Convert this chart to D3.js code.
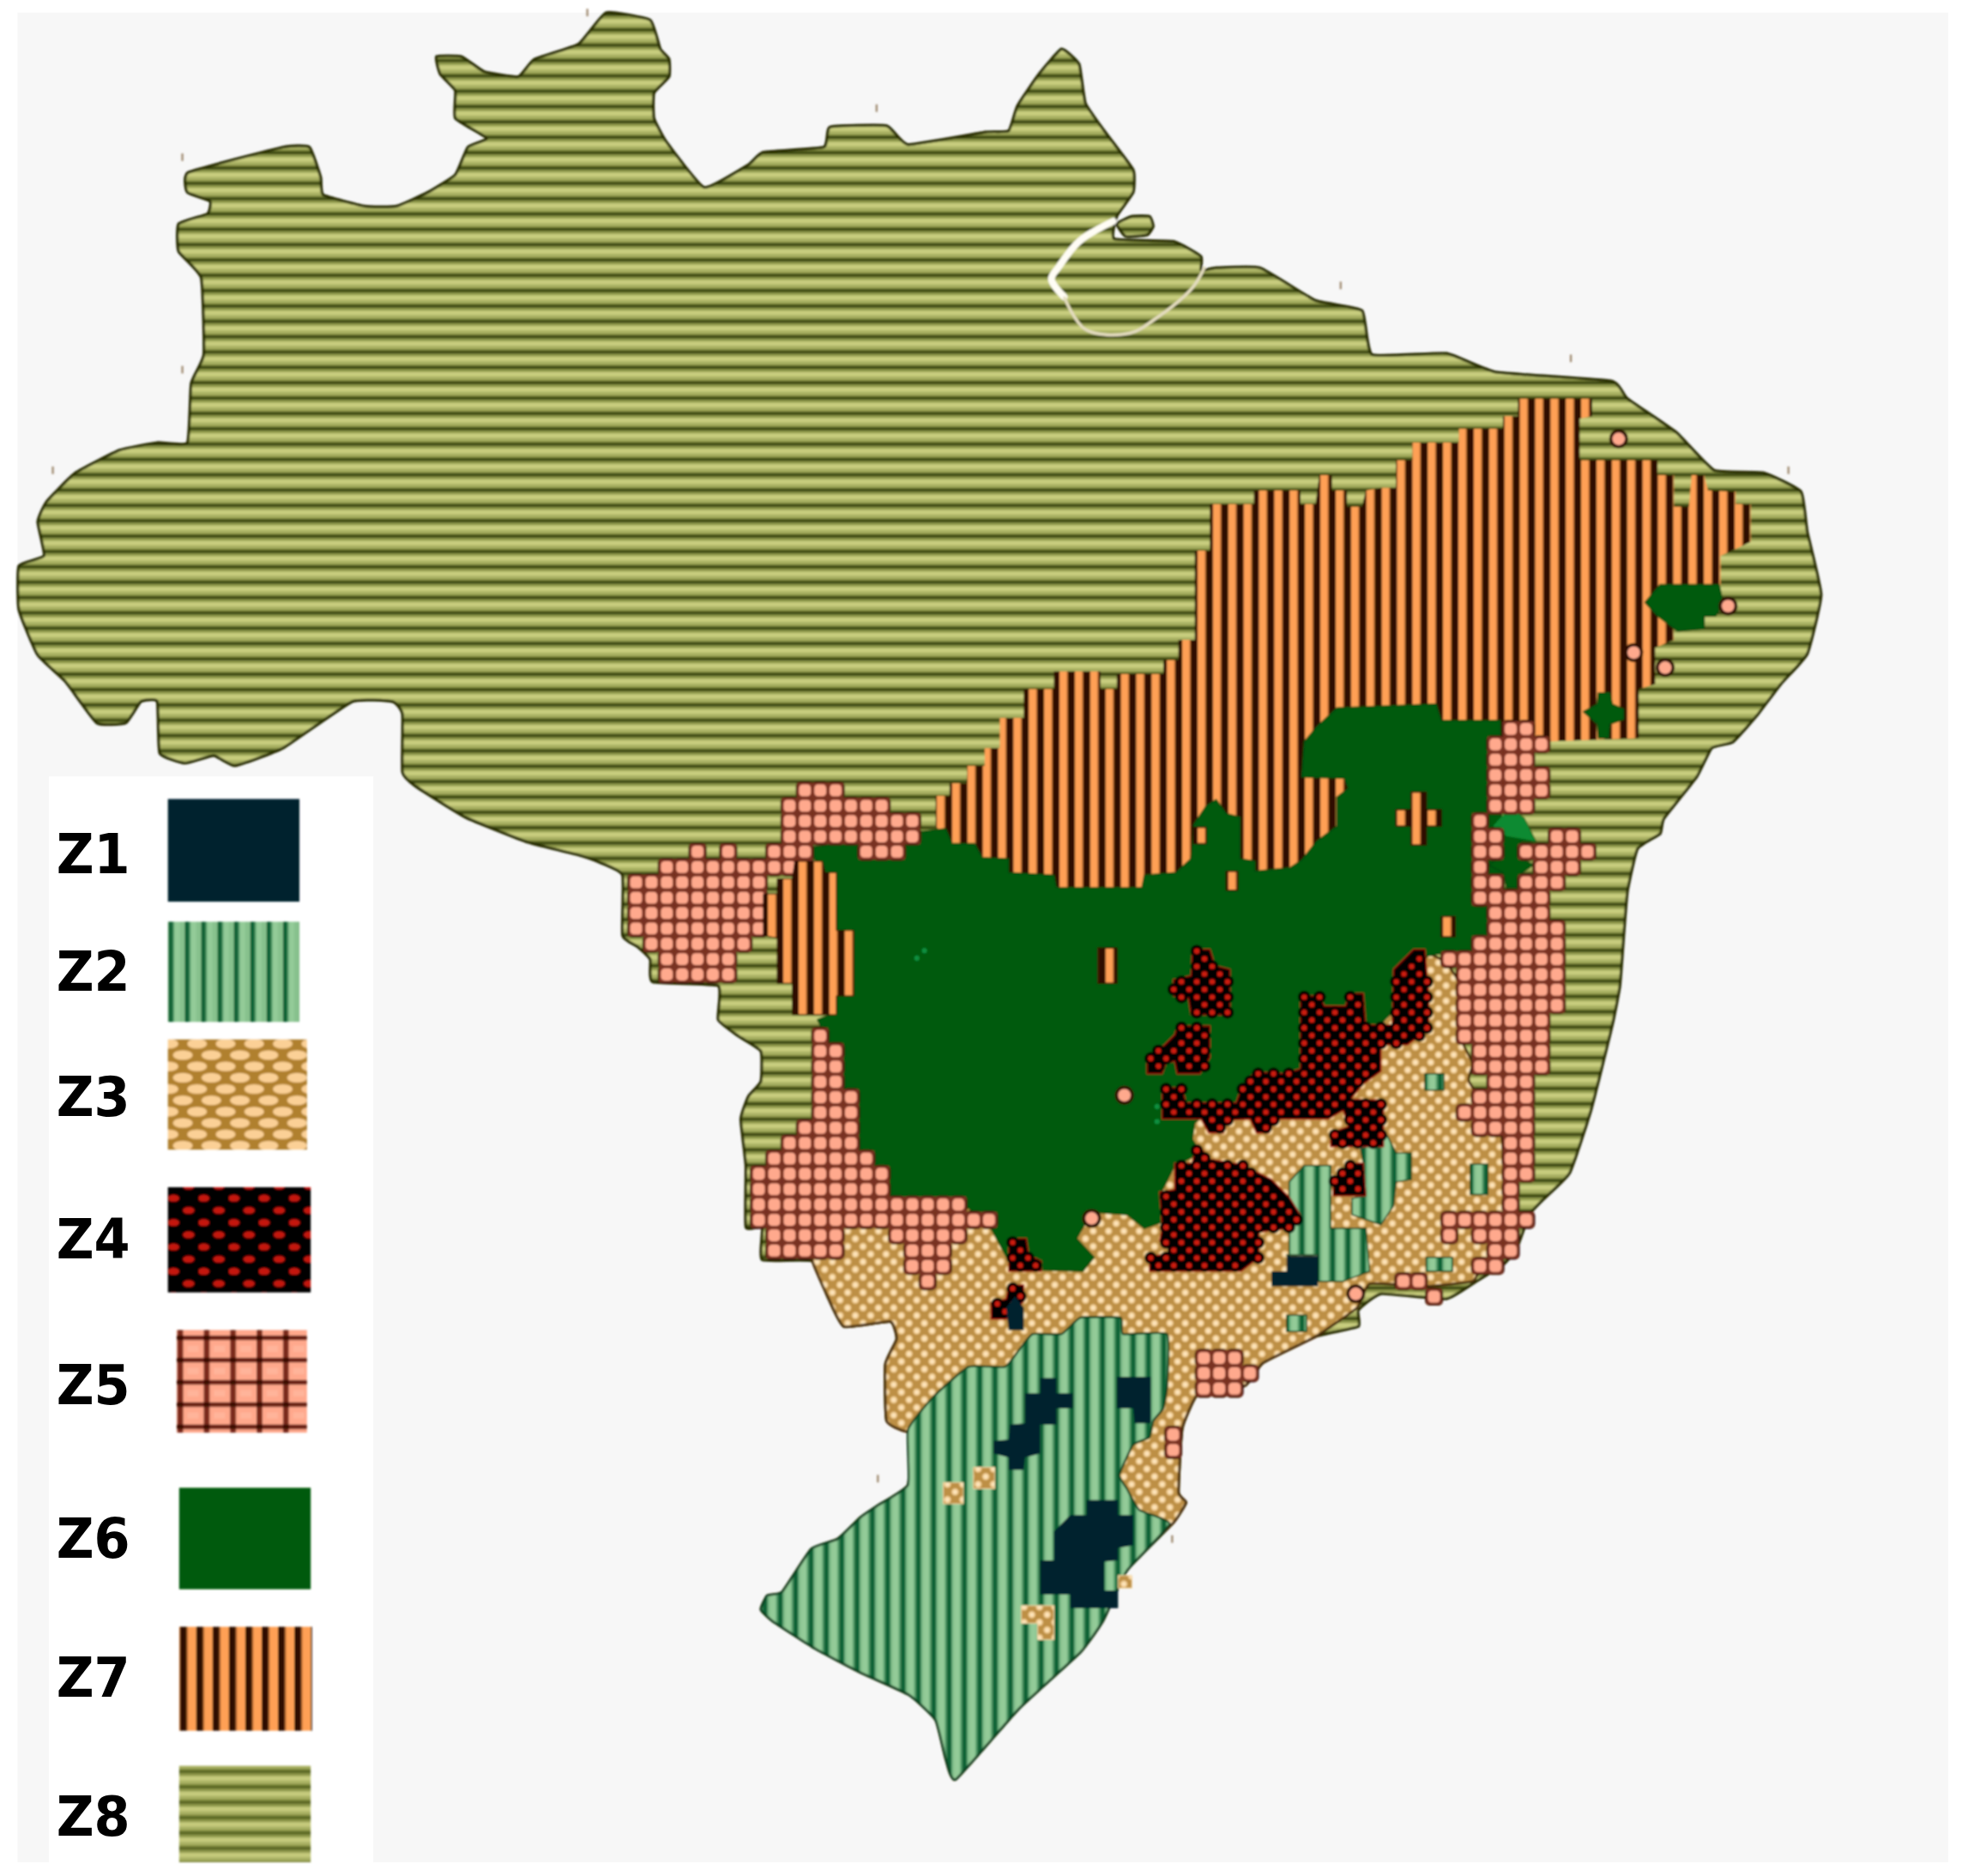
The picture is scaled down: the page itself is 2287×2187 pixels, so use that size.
<!DOCTYPE html>
<html><head><meta charset="utf-8">
<script src="https://cdn.jsdelivr.net/npm/d3@7"></script>
<style>html,body{margin:0;padding:0;background:#fff}svg{display:block}</style>
</head><body><div id="chart"></div>
<script>
// ---------- DATA (map units) ----------
const zoneLabels = ["Z1","Z2","Z3","Z4","Z5","Z6","Z7","Z8"];
const legendBoxes = [[134,638,239,720],[134,736,239,816],[134,830,245,918],[134,948,248,1032],[141,1062,245,1144],[143,1188,248,1269],[143,1299,249,1382],[143,1410,248,1487]];
const labelBaselines = [697,791,891,1005,1121,1244,1355,1466];

const z8Outline = [[482,10],[517,16],[525,39],[532,47],[532,61],[520,74],[520,94],[530,113],[560,149],[595,131],[607,121],[655,117],[660,101],[705,100],[722,115],[784,105],[802,104],[809,84],[826,59],[844,39],[858,51],[863,82],[878,104],[901,135],[901,153],[888,172],[886,190],[933,192],[955,204],[955,215],[967,213],[1002,213],[1046,239],[1083,247],[1091,282],[1150,281],[1190,296],[1281,303],[1294,317],[1333,344],[1363,374],[1402,376],[1432,391],[1437,423],[1448,473],[1437,520],[1416,544],[1397,569],[1378,590],[1361,595],[1349,618],[1323,651],[1320,663],[1302,675],[1294,709],[1291,745],[1288,784],[1282,815],[1265,883],[1248,933],[1227,954],[1216,966],[1206,993],[1195,1006],[1174,1019],[1150,1033],[1098,1029],[1080,1042],[1080,1055],[1046,1063],[1004,1084],[990,1102],[953,1108],[940,1136],[937,1187],[943,1195],[932,1212],[896,1249],[877,1289],[859,1314],[810,1359],[760,1415],[752,1399],[744,1368],[723,1348],[684,1330],[648,1311],[614,1289],[605,1280],[610,1269],[622,1266],[645,1232],[666,1224],[684,1207],[697,1198],[722,1181],[722,1139],[705,1130],[704,1085],[713,1065],[708,1051],[671,1055],[658,1031],[646,1003],[606,1002],[606,976],[593,976],[593,927],[589,890],[595,872],[605,860],[605,836],[587,824],[571,811],[571,784],[519,781],[517,763],[507,753],[495,744],[495,696],[477,686],[460,680],[420,670],[370,650],[330,625],[320,614],[320,568],[312,558],[280,558],[225,595],[187,609],[170,601],[147,607],[127,599],[125,558],[112,558],[100,575],[77,575],[52,542],[30,521],[15,485],[15,450],[35,442],[30,415],[37,399],[60,376],[95,358],[125,352],[149,352],[152,305],[162,282],[160,221],[142,200],[142,178],[165,170],[167,160],[149,153],[150,137],[225,117],[246,117],[255,141],[257,155],[290,164],[315,164],[340,153],[362,139],[372,117],[387,110],[362,94],[362,72],[350,59],[347,45],[367,45],[385,57],[412,61],[425,47],[460,35]];
const z8Islet = [[888,178],[900,172],[914,172],[917,180],[912,187],[895,188]];
const channelWide = [[885,176],[858,192],[842,212],[836,222],[846,236]];
const channelThin = [[846,236],[863,262],[898,265],[918,254],[948,229],[958,212]];

const z7Main = [[744,657],[744,633],[755,633],[755,623],[769,623],[769,609],[783,609],[783,595],[795,595],[795,571],[814,571],[814,548],[838,548],[838,534],[875,534],[875,548],[888,548],[888,536],[925,536],[925,525],[937,525],[937,509],[950,509],[950,438],[962,438],[962,401],[997,401],[997,390],[1034,390],[1034,401],[1046,401],[1049,378],[1059,378],[1059,390],[1071,390],[1071,403],[1083,403],[1086,390],[1098,388],[1110,388],[1110,366],[1123,366],[1123,352],[1160,352],[1160,341],[1195,341],[1195,331],[1207,331],[1207,317],[1266,317],[1266,331],[1256,333],[1256,366],[1318,366],[1318,378],[1331,378],[1331,403],[1343,403],[1345,378],[1355,378],[1358,390],[1380,391],[1380,401],[1392,401],[1392,431],[1368,442],[1368,466],[1330,490],[1331,509],[1316,515],[1316,544],[1303,548],[1303,587],[1225,590],[1200,640],[1000,720],[800,720]];
const z7West = [[607,744],[607,711],[618,711],[618,699],[630,699],[632,685],[654,685],[656,694],[665,694],[665,740],[679,740],[679,792],[665,792],[665,807],[630,807],[630,782],[618,782],[618,746]];
const z7Parts = [
 [[873,754],[888,754],[888,782],[873,782]],
 [[1122,630],[1134,630],[1134,644],[1146,644],[1146,657],[1134,657],[1134,672],[1122,672],[1122,657],[1110,657],[1110,644],[1122,644]],
 [[1146,729],[1157,729],[1157,745],[1146,745]],
 [[975,693],[984,693],[984,708],[975,708]],
 [[949,658],[959,658],[959,671],[949,671]]];

const z3Main = [[646,979],[646,1003],[658,1031],[671,1055],[708,1051],[713,1065],[704,1085],[705,1130],[722,1139],[800,1150],[900,1230],[932,1212],[943,1195],[937,1187],[940,1136],[953,1108],[990,1102],[1004,1084],[1046,1063],[1079,1040],[1089,1021],[1133,1023],[1171,1019],[1178,1006],[1195,982],[1194,904],[1168,860],[1171,846],[1159,820],[1168,794],[1150,766],[1136,759],[1122,776],[1040,860],[950,880],[860,950],[780,960],[700,960]];
const z3Parts = [
 [[750,1179],[766,1179],[766,1196],[750,1196]],
 [[774,1167],[791,1167],[791,1184],[774,1184]],
 [[812,1277],[838,1277],[838,1304],[825,1304],[825,1291],[812,1291]],
 [[889,1253],[900,1253],[900,1263],[889,1263]]];

const z6Main = [[644,674],[728,662],[752,659],[757,671],[775,671],[781,682],[802,683],[802,694],[838,696],[840,706],[908,706],[910,696],[935,694],[947,683],[949,656],[959,641],[967,636],[975,647],[986,650],[986,683],[998,685],[998,693],[1026,690],[1035,684],[1047,669],[1063,657],[1063,634],[1072,627],[1069,619],[1035,618],[1037,590],[1047,578],[1063,563],[1142,560],[1146,573],[1193,573],[1195,780],[1147,758],[1126,762],[1122,790],[1090,822],[1060,846],[1028,880],[960,885],[950,893],[948,906],[955,917],[934,927],[922,951],[924,972],[910,977],[896,966],[868,964],[856,985],[870,1000],[861,1011],[826,1010],[802,1003],[788,977],[767,958],[704,950],[693,925],[672,915],[672,866],[660,830],[650,811],[665,805],[665,720]];
const z6Parts = [
 [[1308,479],[1320,465],[1367,465],[1370,480],[1364,490],[1355,490],[1355,500],[1334,502],[1318,490]],
 [[1259,566],[1270,560],[1271,551],[1280,551],[1282,560],[1291,564],[1291,572],[1280,576],[1279,587],[1271,587],[1270,576]],
 [[1194,651],[1201,642],[1212,651],[1221,669],[1209,669],[1209,682],[1219,688],[1209,695],[1206,706],[1198,706],[1195,694],[1184,688],[1195,679],[1195,666],[1187,657]]];
const z6Light = [[1187,657],[1201,642],[1212,651],[1221,669],[1198,665]];
const z6Specks = [[729,762],[735,756],[920,880],[920,892]];

const z5Blocks = [[630,622,667,635],[618,635,705,647],[618,647,728,670],[681,670,716,682],[607,670,642,685],[521,683,642,696],[544,670,556,683],[569,670,581,683],[495,696,607,744],[509,744,595,757],[519,757,581,781],
 [642,817,654,830],[642,830,668,866],[642,866,679,894],[630,894,679,903],[618,903,679,915],[607,915,691,939],[593,927,703,951],[593,951,765,964],[593,964,790,976],[605,976,669,1000],[704,976,765,988],[716,988,753,1012],[728,1012,742,1025],
 [1195,575,1219,587],[1183,587,1232,599],[1183,599,1219,611],[1183,611,1232,634],[1183,634,1219,646],[1171,646,1183,657],[1171,659,1194,682],[1171,683,1183,694],[1171,695,1194,707],[1209,695,1244,707],[1209,671,1268,683],[1221,683,1256,695],[1233,659,1256,671],[1171,707,1233,719],[1183,719,1233,732],[1183,732,1244,745],[1171,745,1244,758],[1147,756,1244,770],[1158,770,1244,805],[1159,805,1232,831],[1171,831,1232,854],[1183,854,1218,865],[1171,865,1218,878],[1159,878,1218,891],[1171,891,1218,903],[1195,903,1218,938],[1195,938,1208,961],[1147,961,1220,974],[1147,974,1159,986],[1171,974,1208,986],[1183,986,1208,999],[1171,999,1195,1011],[1108,1011,1135,1023],[1133,1023,1147,1036],
 [950,1071,987,1107],[987,1084,999,1094],[925,1133,940,1156]];
const z5Dots = [[868,969],[894,871],[1287,349],[1374,482],[1299,519],[1324,531],[1078,1029]];

const z2Main = [[722,1137],[742,1111],[770,1087],[799,1087],[810,1074],[821,1061],[844,1061],[859,1048],[891,1048],[893,1061],[928,1061],[928,1102],[925,1120],[917,1130],[914,1143],[901,1149],[890,1173],[896,1184],[906,1201],[930,1212],[896,1249],[877,1289],[859,1314],[810,1359],[760,1415],[752,1399],[744,1368],[723,1348],[684,1330],[648,1311],[614,1289],[605,1280],[610,1269],[622,1266],[645,1232],[666,1224],[684,1207],[697,1198],[722,1181]];
const z2Parts = [
 [[1025,1000],[1025,940],[1037,927],[1058,927],[1058,977],[1086,977],[1089,1011],[1068,1019],[1048,1019],[1048,998],[1023,998]],
 [[1082,914],[1103,903],[1110,917],[1122,917],[1122,938],[1110,940],[1108,959],[1098,974],[1075,966],[1075,953],[1086,951],[1084,925]],
 [[1133,854],[1148,854],[1148,867],[1133,867]],
 [[1169,926],[1183,926],[1183,950],[1169,950]],
 [[1023,1046],[1039,1046],[1039,1059],[1023,1059]],
 [[1134,1000],[1155,1000],[1155,1011],[1134,1011]]];

const z4Parts = [
 [[948,755],[962,755],[966,768],[978,771],[978,807],[947,807],[945,794],[933,792],[933,779],[947,776]],
 [[936,816],[962,816],[962,841],[954,854],[936,854],[934,844],[927,846],[924,854],[912,854],[912,841],[926,831],[934,823]],
 [[924,865],[940,865],[943,877],[983,877],[987,865],[997,853],[1011,853],[1021,854],[1034,850],[1034,792],[1049,792],[1053,800],[1070,800],[1072,790],[1084,790],[1086,815],[1107,815],[1108,771],[1124,755],[1133,755],[1136,792],[1136,818],[1119,831],[1098,831],[1098,852],[1084,862],[1074,874],[1100,875],[1100,912],[1058,912],[1058,901],[1072,896],[1068,883],[1056,890],[1014,890],[1009,901],[999,901],[994,890],[973,891],[973,901],[961,901],[955,890],[924,890]],
 [[955,913],[962,922],[987,926],[1011,938],[1025,952],[1035,968],[1025,977],[1001,980],[1001,1000],[987,1011],[914,1011],[914,999],[934,997],[922,987],[924,977],[922,948],[934,946],[934,925],[948,925],[950,914]],
 [[1060,938],[1074,925],[1084,925],[1086,951],[1060,951]],
 [[802,985],[816,985],[818,998],[828,1003],[828,1011],[802,1011]],
 [[802,1022],[814,1022],[814,1035],[800,1049],[788,1049],[788,1036],[800,1033]]];

const z1Parts = [
 [[1011,1023],[1011,1011],[1023,1011],[1023,999],[1048,999],[1048,1023]],
 [[800,1040],[807,1031],[814,1040],[814,1058],[802,1058]],
 [[827,1096],[840,1096],[840,1108],[853,1108],[853,1120],[840,1120],[840,1133],[827,1133],[827,1156],[815,1159],[814,1169],[802,1169],[802,1159],[790,1156],[790,1146],[802,1145],[803,1133],[815,1132],[815,1108],[827,1108]],
 [[888,1095],[915,1095],[915,1132],[902,1132],[901,1120],[888,1120]],
 [[864,1193],[889,1193],[889,1205],[901,1205],[901,1229],[889,1231],[889,1241],[878,1242],[878,1265],[889,1265],[889,1279],[851,1279],[851,1268],[827,1268],[827,1241],[838,1241],[838,1218],[851,1205],[864,1205]]];

const specks = [[145,125],[145,294],[42,374],[697,86],[467,10],[1066,227],[1249,285],[1422,374],[698,1176],[932,1224]];

// ---------- SCALES ----------
const W = 2287, H = 2187;
const x = d3.scaleLinear().domain([0,1560]).range([0,W]);
const y = d3.scaleLinear().domain([0,1492]).range([0,H]);
const xL = d3.scaleLinear().domain([0,1566]).range([0,W]);
const yL = d3.scaleLinear().domain([0,1498]).range([0,H]);
const u = x(1);
const P = 12.2;
const line = d3.line().x(d=>x(d[0])).y(d=>y(d[1])).curve(d3.curveLinear);
const smooth = d3.line().x(d=>x(d[0])).y(d=>y(d[1])).curve(d3.curveCardinalClosed.tension(0.6));
const ring = pts => line(pts)+"Z";

const svg = d3.select("#chart").append("svg").attr("width",W).attr("height",H).attr("viewBox",`0 0 ${W} ${H}`);
const defs = svg.append("defs");
defs.append("filter").attr("id","soft").attr("x","-2%").attr("y","-2%").attr("width","104%").attr("height","104%")
  .append("feGaussianBlur").attr("stdDeviation",1.3);
defs.append("filter").attr("id","softText").append("feGaussianBlur").attr("stdDeviation",0.7);

function pattern(id,w,h,phaseX,phaseY,bg){
  const p = defs.append("pattern").attr("id",id).attr("patternUnits","userSpaceOnUse")
    .attr("width",w*u).attr("height",h*u)
    .attr("patternTransform",`translate(${phaseX*u},${phaseY*u})`);
  p.append("rect").attr("width",w*u).attr("height",h*u).attr("fill",bg);
  return p;
}
const band = (p,x0,y0,w,h,c)=>p.append("rect").attr("x",x0*u).attr("y",y0*u).attr("width",w*u).attr("height",h*u).attr("fill",c);
const dot = (p,cx,cy,rx,ry,c)=>p.append("ellipse").attr("cx",cx*u).attr("cy",cy*u).attr("rx",rx*u).attr("ry",ry*u).attr("fill",c);

let p8 = pattern("pZ8",P,P,0,0.6,"#b3ba6c");
band(p8,0,0,P,2.4,"#8c9648"); band(p8,0,2.4,P,3.6,"#c8cd7e"); band(p8,0,6,P,2.6,"#a9b163"); band(p8,0,8.6,P,1.2,"#7b8638"); band(p8,0,9.8,P,2.4,"#3a4610");
let p7 = pattern("pZ7",P,P,1.2,0,"#ffa055");
band(p7,6.0,0,5.6,P,"#2e0e00"); band(p7,5.2,0,0.8,P,"#b0632a");
let p2 = pattern("pZ2",P,P,0,0,"#87c18d");
band(p2,2.4,0,4.2,P,"#93cb98"); band(p2,8.4,0,3.8,P,"#0f6234"); band(p2,7.2,0,1.2,P,"#4f9a68"); band(p2,0,0,1,P,"#5aa574");
let p3 = pattern("pZ3",P,P,0,0,"#bd8f44");
[[3,3],[9.1,9.1]].forEach(c=>dot(p3,c[0],c[1],2.8,2.8,"#f6d39b"));
[[3,3],[9.1,9.1]].forEach(c=>dot(p3,c[0],c[1],1.3,1.3,"#ffe9c4"));
let l3 = pattern("lZ3",22.7,18,134,830,"#b0802e");
[[0,0],[22.7,0],[0,18],[22.7,18],[11.35,9]].forEach(c=>dot(l3,c[0],c[1],7.8,3.9,"#fbd096"));
let l4 = pattern("lZ4",24,19.4,134,948,"#000");
[[4,4.8],[16,14.5]].forEach(c=>dot(l4,c[0],c[1],4.6,2.8,"#c4140a"));
let l5 = pattern("lZ5",21,17.7,141,1062,"#ffa88c");
band(l5,0,0,21,3.6,"#6a2414"); band(l5,0,0,4.6,17.7,"#7a2c1a"); band(l5,0,0,4.6,3.6,"#3a0e04"); band(l5,8,8,9,5,"#ffb49a");
let l2 = pattern("lZ2",13,13,134,736,"#87c18d");
band(l2,4,0,5,13,"#93cb98"); band(l2,0,0,3.6,13,"#0f6234"); band(l2,3.6,0,1,13,"#4f9a68");
let l7 = pattern("lZ7",13,13,143,1299,"#ffa055");
band(l7,0,0,5.6,13,"#2e0e00"); band(l7,5.6,0,0.8,13,"#b0632a");
let l8 = pattern("lZ8",P,P,143,1410,"#b3ba6c");
band(l8,0,0,P,2.4,"#8c9648"); band(l8,0,2.4,P,3.6,"#c5ca7c"); band(l8,0,6,P,2.6,"#a9b163"); band(l8,0,8.6,P,1.2,"#7b8638"); band(l8,0,9.8,P,2.4,"#5a6622");

// ---------- BACKGROUND ----------
svg.append("rect").attr("width",W).attr("height",H).attr("fill","#fff");
svg.append("rect").attr("x",xL(14)).attr("y",yL(10)).attr("width",xL(1541)).attr("height",yL(1477)).attr("fill","#f7f7f7");

// ---------- MAP ----------
const map = svg.append("g").attr("filter","url(#soft)");
const poly = (list,fill,stroke,sw)=>map.append("g").selectAll("path").data(list).join("path")
  .attr("d",ring).attr("fill",fill).attr("stroke",stroke||"none").attr("stroke-width",sw||0).attr("stroke-linejoin","round");
const curvy = (list,fill,stroke,sw)=>map.append("g").selectAll("path").data(list).join("path")
  .attr("d",smooth).attr("fill",fill).attr("stroke",stroke||"none").attr("stroke-width",sw||0).attr("stroke-linejoin","round");

curvy([z8Outline,z8Islet],"url(#pZ8)","#262b04",3.2);
map.append("path").attr("d",line.curve(d3.curveCatmullRom)(channelWide)).attr("fill","none").attr("stroke","#fffdf5").attr("stroke-width",8).attr("stroke-linecap","round");
map.append("path").attr("d",line(channelThin)).attr("fill","none").attr("stroke","#e4dcc0").attr("stroke-width",3.5);
line.curve(d3.curveLinear);
poly([z7Main],"url(#pZ7)");
curvy([z3Main],"url(#pZ3)","#4a2e08",3);
poly([z6Main].concat(z6Parts),"#045a0a","#034a08",1.5);
poly([z6Light],"#0a8a32");
map.append("g").selectAll("circle").data(z6Specks).join("circle").attr("cx",d=>x(d[0])).attr("cy",d=>y(d[1])).attr("r",3).attr("fill","#0d9040");
poly(z7Parts,"url(#pZ7)","#2a0d00",1.5);

const gx = d=>1189+P*d, gy = d=>592+P*d;
const cellSet = new Map();
z5Blocks.forEach(b=>{
  d3.range(Math.ceil((b[0]-1189)/P),Math.ceil((b[2]-1189)/P)).forEach(i=>{
    d3.range(Math.ceil((b[1]-592)/P),Math.ceil((b[3]-592)/P)).forEach(j=>{
      cellSet.set(i+"_"+j,[gx(i),gy(j)]);
    });
  });
});
const z5Cells = Array.from(cellSet.values());
const cellLayer = (data,s,r,c)=>map.append("g").selectAll("rect").data(data).join("rect")
  .attr("x",d=>x(d[0]-s/2)).attr("y",d=>y(d[1]-s/2)).attr("width",s*u).attr("height",s*u).attr("rx",r*u).attr("fill",c);
cellLayer(z5Cells,14.4,4,"#2e1006");
cellLayer(z5Cells,12.6,1,"#7a3220");
cellLayer(z5Cells,9.4,3,"#ffa98d");
map.append("g").selectAll("circle.o").data(z5Dots).join("circle").attr("cx",d=>x(d[0])).attr("cy",d=>y(d[1])).attr("r",7.5*u).attr("fill","#2e1006");
map.append("g").selectAll("circle.i").data(z5Dots).join("circle").attr("cx",d=>x(d[0])).attr("cy",d=>y(d[1])).attr("r",5*u).attr("fill","#ffa98d");

poly([z7West],"url(#pZ7)","#2a0d00",1);
curvy([z2Main],"url(#pZ2)","#0f3d1e",2.4);
poly(z2Parts,"url(#pZ2)","#0f3d1e",1.5);
poly(z3Parts,"url(#pZ3)","#f3d8a8",1);

poly(z4Parts,"#000","#a01008",1.5);
const z4Dots = [];
z4Parts.forEach(pg=>{
  const [x0,x1]=d3.extent(pg,d=>d[0]), [y0,y1]=d3.extent(pg,d=>d[1]);
  d3.range(Math.floor(x0/6.1),Math.ceil(x1/6.1)+1).forEach(i=>{
    d3.range(Math.floor(y0/6.1),Math.ceil(y1/6.1)+1).forEach(j=>{
      if((i+j)%2===0 && d3.polygonContains(pg,[i*6.1,j*6.1])) z4Dots.push([i*6.1,j*6.1]);
    });
  });
});
map.append("g").selectAll("circle").data(z4Dots).join("circle").attr("cx",d=>x(d[0])).attr("cy",d=>y(d[1])).attr("r",5.0*u).attr("fill","#050000");
map.append("g").selectAll("circle").data(z4Dots).join("circle").attr("cx",d=>x(d[0])).attr("cy",d=>y(d[1])).attr("r",2.2*u).attr("fill","#cc1a0c");

poly(z1Parts,"#03202e");

map.append("g").selectAll("line").data(specks).join("line")
  .attr("x1",d=>x(d[0])).attr("x2",d=>x(d[0])).attr("y1",d=>y(d[1]-3)).attr("y2",d=>y(d[1]+3))
  .attr("stroke","#9a8468").attr("stroke-width",2.2);

// ---------- LEGEND ----------
svg.append("rect").attr("x",xL(39)).attr("y",yL(620)).attr("width",xL(259)).attr("height",yL(867)).attr("fill","#fff");
const legendFill = ["#03202e","url(#lZ2)","url(#lZ3)","url(#lZ4)","url(#lZ5)","#045a0a","url(#lZ7)","url(#lZ8)"];
const lg = svg.append("g").attr("filter","url(#soft)");
lg.selectAll("rect").data(legendBoxes).join("rect")
  .attr("x",d=>xL(d[0])).attr("y",d=>yL(d[1])).attr("width",d=>xL(d[2]-d[0])).attr("height",d=>yL(d[3]-d[1]))
  .attr("fill",(d,i)=>legendFill[i]);
svg.append("g").attr("filter","url(#softText)").selectAll("text").data(zoneLabels).join("text")
  .attr("x",xL(45)).attr("y",(d,i)=>yL(labelBaselines[i]))
  .attr("font-family","'DejaVu Sans',sans-serif").attr("font-weight",700).attr("font-size",64)
  .attr("textLength",86).attr("lengthAdjust","spacingAndGlyphs").attr("fill","#000")
  .text(d=>d);
</script></body></html>
